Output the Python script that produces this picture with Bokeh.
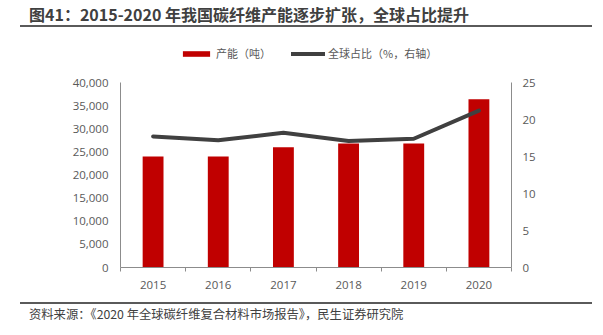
from bokeh.plotting import figure
from bokeh.models import (Range1d, LinearAxis, FixedTicker, NumeralTickFormatter,
                          Legend, LegendItem, Div)
from bokeh.layouts import column
from bokeh.embed import file_html
from bokeh.resources import INLINE

years = ["2015", "2016", "2017", "2018", "2019", "2020"]
capacity = [24000, 24000, 26000, 26800, 26800, 36400]
share = [17.7, 17.2, 18.2, 17.1, 17.4, 21.2]
left_ticks = [0, 5000, 10000, 15000, 20000, 25000, 30000, 35000, 40000]
right_ticks = [0, 5, 10, 15, 20, 25]

title_text = "图41：2015-2020 年我国碳纤维产能逐步扩张，全球占比提升"
source_text = "资料来源：《2020 年全球碳纤维复合材料市场报告》，民生证券研究院"

FONT = "Noto Sans CJK SC"
AX = "#8c8c8c"
LBL = "#595959"

# frame spans 229 px; the axes (0..max) occupy the lower 185 px of it,
# leaving room for the legend inside the frame
EXT = 229.0 / 185.0

xs = [i + 0.5 for i in range(len(years))]

p = figure(width=603, height=266, x_range=Range1d(0, len(years)),
           y_range=Range1d(0, left_ticks[-1] * EXT), output_backend="svg",
           toolbar_location=None, min_border_left=120, min_border_right=92,
           min_border_top=8, min_border_bottom=29)
p.extra_y_ranges = {"r": Range1d(0, right_ticks[-1] * EXT)}
p.outline_line_color = None
p.xgrid.visible = False
p.ygrid.visible = False
p.background_fill_color = "white"
p.border_fill_color = "white"

bars = p.vbar(x=xs, top=capacity, width=0.32, fill_color="#C00000", line_color=None)
line = p.line(xs, share, y_range_name="r", line_width=4, line_color="#404040",
              line_cap="round", line_join="round")

# bottom axis
xa = p.xaxis[0]
xa.ticker = FixedTicker(ticks=xs, minor_ticks=list(range(len(years) + 1)))
xa.major_label_overrides = {x: y for x, y in zip(xs, years)}
xa.major_tick_in = 0
xa.major_tick_out = 0
xa.minor_tick_in = 0
xa.minor_tick_out = 4
xa.minor_tick_line_color = AX
xa.axis_line_color = AX
xa.major_label_standoff = 9
xa.major_label_text_font = "Open Sans"
xa.major_label_text_font_size = "11.5px"
xa.major_label_text_color = LBL

# left axis
ya = p.yaxis[0]
ya.ticker = FixedTicker(ticks=left_ticks)
ya.bounds = (0, left_ticks[-1])
ya.formatter = NumeralTickFormatter(format="0,0")
ya.major_tick_in = 0
ya.major_tick_out = 0
ya.minor_tick_line_color = None
ya.axis_line_color = AX
ya.major_label_standoff = 12
ya.major_label_text_font = "Open Sans"
ya.major_label_text_font_size = "11.5px"
ya.major_label_text_color = LBL

# right axis
ra = LinearAxis(y_range_name="r", ticker=FixedTicker(ticks=right_ticks),
                bounds=(0, right_ticks[-1]))
ra.major_tick_in = 0
ra.major_tick_out = 0
ra.minor_tick_line_color = None
ra.axis_line_color = AX
ra.major_label_standoff = 11
ra.major_label_text_font = "Open Sans"
ra.major_label_text_font_size = "11.5px"
ra.major_label_text_color = LBL
p.add_layout(ra, "right")

legend = Legend(items=[LegendItem(label="产能（吨）", renderers=[bars]),
                       LegendItem(label="全球占比（%，右轴）", renderers=[line])],
                location=(59, 206), orientation="horizontal",
                glyph_width=34, glyph_height=7, label_height=7,
                label_standoff=3, spacing=20, padding=0, margin=0,
                border_line_color=None, background_fill_alpha=0,
                label_text_font=FONT, label_text_font_size="11px",
                label_text_color=LBL)
p.add_layout(legend)

title_div = Div(
    text=('<div style="margin-left:20px;width:572px;height:27px;box-sizing:border-box;'
          'border-bottom:2px solid #5a5a5a;padding-left:9px;padding-top:3px;'
          'line-height:22px;font-family:\'Noto Sans CJK SC\';font-weight:bold;'
          'font-size:16px;color:#404040;white-space:nowrap;">' + title_text + '</div>'),
    width=603, height=30, margin=(0, 0, 0, 0))

source_div = Div(
    text=('<div style="margin-left:20px;margin-top:6px;width:572px;box-sizing:border-box;'
          'border-top:2px solid #5a5a5a;padding-left:9px;'
          'line-height:20px;font-family:\'Noto Sans CJK SC\';'
          'font-size:12.3px;color:#404040;white-space:nowrap;">' + source_text + '</div>'),
    width=603, height=39, margin=(0, 0, 0, 0))

layout = column(title_div, p, source_div, spacing=0)

open("out.html", "w").write(file_html(layout, INLINE))
